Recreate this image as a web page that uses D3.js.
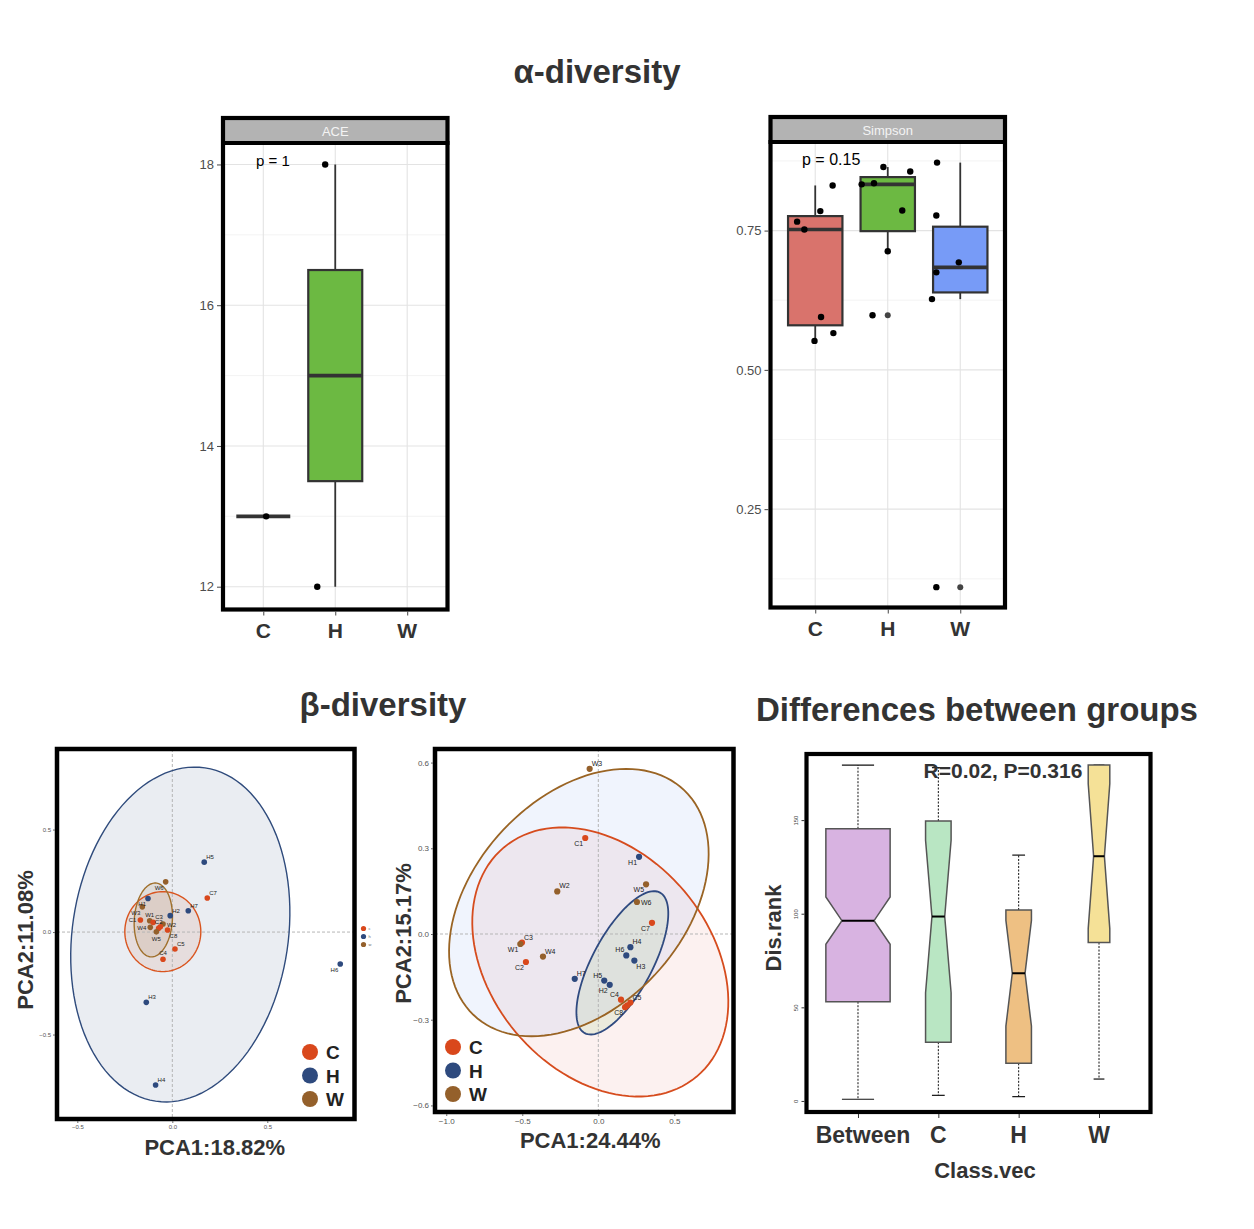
<!DOCTYPE html>
<html>
<head>
<meta charset="utf-8">
<title>diversity</title>
<script src="https://d3js.org/d3.v7.min.js"></script>
<style>
  body { margin: 0; background: #fff; }
  svg text { font-family: "Liberation Sans", Arial, Helvetica, sans-serif; }
</style>
</head>
<body>
<div id="canvax"></div>
<script>
var groups = ['C', 'H', 'W'];

// ---- alpha diversity: ACE ----
var aceBoxGrp = ['C', 'H'];
var aceLo  = [13, 12];
var aceQ1  = [13, 13.5];
var aceMed = [13, 15];
var aceQ3  = [13, 16.5];
var aceHi  = [13, 18];
var aceOut = [[], []];
var acePtGrp = ['C', 'H', 'H'];
var acePtVal = [13, 12, 18];
var acePtJit = [0.04, -0.25, -0.14];
var aceTicks = [12, 14, 16, 18];
var aceMinor = [13, 15, 17];

// ---- alpha diversity: Simpson ----
var simBoxGrp = ['C', 'H', 'W'];
var simLo  = [0.552, 0.713, 0.627];
var simQ1  = [0.580, 0.749, 0.639];
var simMed = [0.752, 0.833, 0.684];
var simQ3  = [0.776, 0.846, 0.757];
var simHi  = [0.831, 0.864, 0.872];
var simOut = [[], [0.598], [0.110]];
var simPtGrp = ['C','C','C','C','C','C','C', 'H','H','H','H','H','H','H', 'W','W','W','W','W','W'];
var simPtVal = [0.766,0.752,0.785,0.831,0.595,0.566,0.552, 0.864,0.856,0.833,0.835,0.786,0.713,0.598, 0.872,0.777,0.693,0.675,0.627,0.110];
var simPtJit = [-0.25,-0.15,0.07,0.24,0.08,0.25,-0.01, -0.06,0.31,-0.36,-0.19,0.20,0.0,-0.21, -0.32,-0.33,-0.02,-0.33,-0.39,-0.33];
var simTicks = [0.25, 0.50, 0.75];
var simMinor = [0.125, 0.375, 0.625, 0.875];

// ---- beta diversity: PCA (left) ----
var pcaANames = ['H5','C7','W6','H1','W3','H2','H7','C1','W1','C3','W2','W4','C2','C6','W5','C8','C5','C4','H3','H4','H6'];
var pcaAX = [0.168,0.184,-0.035,-0.128,-0.158,-0.011,0.084,-0.168,-0.119,-0.101,-0.049,-0.116,-0.072,-0.063,-0.084,-0.025,0.014,-0.049,-0.137,-0.088,0.884];
var pcaAY = [0.341,0.166,0.245,0.164,0.123,0.080,0.104,0.059,0.055,0.047,0.039,0.023,0.018,0.026,0.001,0.010,-0.083,-0.133,-0.343,-0.746,-0.156];
var pcaALbl = ['ne','ne','sw','sw','sw','ne','ne','w','n','ne','e','w','n','','s','se','ne','n','ne','ne','sw'];
// ellipses C, H, W : centre x, centre y, axis1 (dx,dy), axis2 (dx,dy)
var pcaAEll = [[-0.05, 0.002, 0.20, 0, 0, 0.195],
               [0.042, -0.012, 0.130, 0.813, 0.562, -0.078],
               [-0.10, 0.059, 0.013, 0.18, 0.10, -0.006]];
var pcaATicks = [-0.5, 0, 0.5];

// ---- beta diversity: PCA (right) ----
var pcaBNames = ['W3','C1','H1','W2','W5','W6','C7','C3','W1','C2','W4','H4','H6','H3','H7','H5','H2','C4','C5','C8','C6'];
var pcaBX = [-0.057,-0.086,0.268,-0.270,0.314,0.254,0.353,-0.502,-0.513,-0.476,-0.364,0.211,0.184,0.237,-0.155,0.039,0.075,0.149,0.211,0.176,0.190];
var pcaBY = [0.578,0.336,0.270,0.149,0.174,0.112,0.039,-0.030,-0.035,-0.098,-0.079,-0.046,-0.075,-0.093,-0.157,-0.163,-0.178,-0.230,-0.240,-0.256,-0.250];
var pcaBLbl = ['ne','sw','sw','ne','sw','e','sw','ne','sw','sw','ne','ne','nw','se','ne','nw','sw','nw','ne','sw',''];
var pcaBEll = [[0.013, -0.098, 0.634, -0.401, 0.554, 0.247],
               [0.158, -0.101, 0.247, 0.246, 0.174, -0.049],
               [-0.128, 0.110, 0.742, 0.364, 0.422, -0.294]];
var pcaBXTicks = [-1.0, -0.5, 0, 0.5];
var pcaBYTicks = [-0.6, -0.3, 0, 0.3, 0.6];

// ---- differences between groups (ANOSIM ranks) ----
var drCats = ['Between', 'C', 'H', 'W'];
var drN   = [133, 21, 21, 15];
var drLo  = [0.9, 3.0, 2.3, 11.7];
var drQ1  = [53.0, 31.4, 20.1, 84.6];
var drMed = [96.3, 98.5, 68.2, 130.7];
var drQ3  = [145.4, 149.5, 102.0, 179.4];
var drHi  = [179.4, 178.0, 131.3, 179.4];
var drTicks = [0, 50, 100, 150];

var boxCol = {C: '#d9736c', H: '#6cb942', W: '#779bf7'};
var ptCol = {C: '#d9481c', H: '#2e4a7e', W: '#94602b'};
var drCol = ['#d8b3e1', '#b9e6c3', '#eec083', '#f5e197'];

var svg = d3.select("#canvax").append("svg")
    .attr("width", 1254)
    .attr("height", 1229)
    .style("background", "#fff");

function title(txt, x, y) {
  svg.append("text").attr("x", x).attr("y", y)
    .attr("text-anchor", "middle").attr("font-size", 33).attr("font-weight", "bold")
    .attr("fill", "#333").text(txt);
}

function facet(o) {
  var stripH = 25;
  var x = d3.scalePoint().domain(groups).range([o.left, o.right]).padding(o.pad);
  var y = d3.scaleLinear().domain(o.ydom).range([o.bottom, o.top + stripH]);
  var bw = x.step() * 0.75;
  var g = svg.append("g");

  g.selectAll("line.minor").data(o.minor).enter().append("line")
      .attr("x1", o.left).attr("x2", o.right)
      .attr("y1", function(d){ return y(d); }).attr("y2", function(d){ return y(d); })
      .attr("stroke", "#f0f0f0").attr("stroke-width", 0.8);
  g.selectAll("line.major").data(o.ticks).enter().append("line")
      .attr("x1", o.left).attr("x2", o.right)
      .attr("y1", function(d){ return y(d); }).attr("y2", function(d){ return y(d); })
      .attr("stroke", "#e3e3e3").attr("stroke-width", 1.1);
  g.selectAll("line.vg").data(groups).enter().append("line")
      .attr("x1", function(d){ return x(d); }).attr("x2", function(d){ return x(d); })
      .attr("y1", o.top + stripH).attr("y2", o.bottom)
      .attr("stroke", "#e3e3e3").attr("stroke-width", 1.1);

  var idx = d3.range(o.grp.length);
  // whiskers
  g.selectAll("line.wh").data(idx).enter().append("line")
      .attr("x1", function(i){ return x(o.grp[i]); }).attr("x2", function(i){ return x(o.grp[i]); })
      .attr("y1", function(i){ return y(o.hi[i]); }).attr("y2", function(i){ return y(o.lo[i]); })
      .attr("stroke", "#333").attr("stroke-width", 1.8);
  g.selectAll("rect.box").data(idx).enter().append("rect")
      .attr("x", function(i){ return x(o.grp[i]) - bw / 2; })
      .attr("y", function(i){ return y(o.q3[i]); })
      .attr("width", bw)
      .attr("height", function(i){ return y(o.q1[i]) - y(o.q3[i]); })
      .attr("fill", function(i){ return boxCol[o.grp[i]]; })
      .attr("stroke", "#333").attr("stroke-width", 2.2);
  g.selectAll("line.med").data(idx).enter().append("line")
      .attr("x1", function(i){ return x(o.grp[i]) - bw / 2; })
      .attr("x2", function(i){ return x(o.grp[i]) + bw / 2; })
      .attr("y1", function(i){ return y(o.med[i]); }).attr("y2", function(i){ return y(o.med[i]); })
      .attr("stroke", "#333").attr("stroke-width", 3.6);
  // boxplot outliers
  idx.forEach(function(i){
    g.selectAll("circle.out" + i).data(o.out[i]).enter().append("circle")
        .attr("cx", x(o.grp[i])).attr("cy", function(d){ return y(d); })
        .attr("r", 3).attr("fill", "#444");
  });
  // jittered points
  g.selectAll("circle.pt").data(o.ptVal).enter().append("circle")
      .attr("cx", function(d, i){ return x(o.ptGrp[i]) + o.ptJit[i] * x.step(); })
      .attr("cy", function(d){ return y(d); })
      .attr("r", 3.2).attr("fill", "#000");

  // strip
  g.append("rect").attr("x", o.left).attr("y", o.top).attr("width", o.right - o.left).attr("height", stripH)
      .attr("fill", "#b3b3b3");
  g.append("text").attr("x", (o.left + o.right) / 2).attr("y", o.top + 17.5)
      .attr("text-anchor", "middle").attr("font-size", 13).attr("fill", "#f4f4f4").text(o.label);
  g.append("rect").attr("x", o.left).attr("y", o.top).attr("width", o.right - o.left).attr("height", o.bottom - o.top)
      .attr("fill", "none").attr("stroke", "#000").attr("stroke-width", 4.2);
  g.append("line").attr("x1", o.left - 2).attr("x2", o.right + 2)
      .attr("y1", o.top + stripH).attr("y2", o.top + stripH)
      .attr("stroke", "#000").attr("stroke-width", 4.2);

  var ya = g.append("g").attr("transform", "translate(" + (o.left - 2) + ",0)")
      .call(d3.axisLeft(y).tickValues(o.ticks).tickSize(4).tickPadding(3).tickFormat(o.fmt));
  ya.select(".domain").remove();
  ya.selectAll("line").attr("stroke", "#444");
  ya.selectAll("text").attr("fill", "#4d4d4d").attr("font-size", 13).attr("font-family", null);

  var xa = g.append("g").attr("transform", "translate(0," + (o.bottom + 2) + ")")
      .call(d3.axisBottom(x).tickSize(4).tickFormat(""));
  xa.select(".domain").remove();
  xa.selectAll("line").attr("stroke", "#444");
  g.selectAll("text.xl").data(groups).enter().append("text")
      .attr("x", function(d){ return x(d); }).attr("y", o.bottom + 28)
      .attr("text-anchor", "middle").attr("font-size", 21).attr("font-weight", "bold")
      .attr("fill", "#333").text(function(d){ return d; });

  g.append("text").attr("x", o.pX).attr("y", o.top + 48)
      .attr("font-size", o.pSize).attr("fill", "#000").text(o.p);
}

var lblOff = {ne: [2, -3, 'start'], nw: [-2, -3, 'end'], sw: [-2, 8, 'end'], se: [2, 8, 'start'],
              e: [4, 2.5, 'start'], w: [-4, 2.5, 'end'], n: [0, -4, 'middle'], s: [0, 9, 'middle']};

function ellPath(e, x, y) {
  var ts = d3.range(0, 360, 3).map(function(a){ return a * Math.PI / 180; });
  return d3.line()
      .x(function(t){ return x(e[0] + e[2] * Math.cos(t) + e[4] * Math.sin(t)); })
      .y(function(t){ return y(e[1] + e[3] * Math.cos(t) + e[5] * Math.sin(t)); })
      .curve(d3.curveLinearClosed)(ts);
}

function pca(o) {
  var x = d3.scaleLinear().domain(o.xdom).range([o.left, o.right]);
  var y = d3.scaleLinear().domain(o.ydom).range([o.bottom, o.top]);
  var g = svg.append("g");
  g.append("clipPath").attr("id", "clip" + o.id).append("rect")
      .attr("x", o.left).attr("y", o.top).attr("width", o.right - o.left).attr("height", o.bottom - o.top);
  var inner = g.append("g").attr("clip-path", "url(#clip" + o.id + ")");

  inner.selectAll("path.efill").data(o.ell).enter().append("path")
      .attr("d", function(e){ return ellPath(e, x, y); })
      .attr("fill", function(e, i){ return o.ellFill[i]; })
      .attr("fill-opacity", function(e, i){ return o.ellOp[i]; });
  inner.append("line").attr("x1", x(0)).attr("x2", x(0)).attr("y1", o.top).attr("y2", o.bottom)
      .attr("stroke", "#b5b5b5").attr("stroke-width", 1).attr("stroke-dasharray", "3,2");
  inner.append("line").attr("x1", o.left).attr("x2", o.right).attr("y1", y(0)).attr("y2", y(0))
      .attr("stroke", "#b5b5b5").attr("stroke-width", 1).attr("stroke-dasharray", "3,2");
  inner.selectAll("path.eline").data(o.ell).enter().append("path")
      .attr("d", function(e){ return ellPath(e, x, y); })
      .attr("fill", "none")
      .attr("stroke", function(e, i){ return o.ellStroke[i]; })
      .attr("stroke-width", o.ellW);

  inner.selectAll("circle.pt").data(o.names).enter().append("circle")
      .attr("cx", function(d, i){ return x(o.px[i]); })
      .attr("cy", function(d, i){ return y(o.py[i]); })
      .attr("r", o.r)
      .attr("fill", function(d){ return ptCol[d.charAt(0)]; });
  inner.selectAll("text.lbl").data(o.names).enter().append("text")
      .filter(function(d, i){ return o.lbl[i] !== ''; })
      .attr("x", function(d){ var i = o.names.indexOf(d); return x(o.px[i]) + lblOff[o.lbl[i]][0]; })
      .attr("y", function(d){ var i = o.names.indexOf(d); return y(o.py[i]) + lblOff[o.lbl[i]][1]; })
      .attr("text-anchor", function(d){ var i = o.names.indexOf(d); return lblOff[o.lbl[i]][2]; })
      .attr("font-size", o.lblSize).attr("fill", "#222")
      .text(function(d){ return d; });

  g.append("rect").attr("x", o.left).attr("y", o.top).attr("width", o.right - o.left).attr("height", o.bottom - o.top)
      .attr("fill", "none").attr("stroke", "#000").attr("stroke-width", 4.5);

  var xa = g.append("g").attr("transform", "translate(0," + (o.bottom + 2) + ")")
      .call(d3.axisBottom(x).tickValues(o.xticks).tickSize(2).tickPadding(2).tickFormat(d3.format(".1f")));
  xa.select(".domain").remove();
  xa.selectAll("line").attr("stroke", "#666");
  xa.selectAll("text").attr("fill", "#555").attr("font-size", o.tickSize).attr("font-family", null);
  var ya = g.append("g").attr("transform", "translate(" + (o.left - 2) + ",0)")
      .call(d3.axisLeft(y).tickValues(o.yticks).tickSize(2).tickPadding(2).tickFormat(d3.format(".1f")));
  ya.select(".domain").remove();
  ya.selectAll("line").attr("stroke", "#666");
  ya.selectAll("text").attr("fill", "#555").attr("font-size", o.tickSize).attr("font-family", null);

  // legend inside panel
  var lg = g.append("g");
  lg.selectAll("circle").data(groups).enter().append("circle")
      .attr("cx", o.legX).attr("cy", function(d, i){ return o.legY + i * 23.5; })
      .attr("r", 8).attr("fill", function(d){ return ptCol[d]; });
  lg.selectAll("text").data(groups).enter().append("text")
      .attr("x", o.legX + 16).attr("y", function(d, i){ return o.legY + i * 23.5 + 7; })
      .attr("font-size", 19).attr("font-weight", "bold").attr("fill", "#222")
      .text(function(d){ return d; });

  g.append("text").attr("x", (o.left + o.right) / 2 + o.xlabDx).attr("y", o.bottom + 36)
      .attr("text-anchor", "middle").attr("font-size", 22).attr("font-weight", "bold").attr("fill", "#333")
      .text(o.xlab);
  g.append("text").attr("transform", "translate(" + o.ylabX + "," + ((o.top + o.bottom) / 2 + o.ylabDy) + ") rotate(-90)")
      .attr("text-anchor", "middle").attr("font-size", 22).attr("font-weight", "bold").attr("fill", "#333")
      .text(o.ylab);
  return g;
}

function disRank(o) {
  var x = d3.scalePoint().domain(drCats).range([o.left, o.right]).padding(o.pad);
  var y = d3.scaleLinear().domain(o.ydom).range([o.bottom, o.top]);
  var g = svg.append("g");
  var maxN = d3.max(drN);
  var hw = drN.map(function(n){ return 0.8 * Math.sqrt(n / maxN) * x.step() / 2; });
  var idx = d3.range(drCats.length);

  // whiskers (dashed) and staples
  g.selectAll("line.wu").data(idx).enter().append("line")
      .attr("x1", function(i){ return x(drCats[i]); }).attr("x2", function(i){ return x(drCats[i]); })
      .attr("y1", function(i){ return y(drQ3[i]); }).attr("y2", function(i){ return y(drHi[i]); })
      .attr("stroke", "#111").attr("stroke-width", 1).attr("stroke-dasharray", "2,1.5");
  g.selectAll("line.wl").data(idx).enter().append("line")
      .attr("x1", function(i){ return x(drCats[i]); }).attr("x2", function(i){ return x(drCats[i]); })
      .attr("y1", function(i){ return y(drQ1[i]); }).attr("y2", function(i){ return y(drLo[i]); })
      .attr("stroke", "#111").attr("stroke-width", 1).attr("stroke-dasharray", "2,1.5");
  ['hi', 'lo'].forEach(function(k){
    var arr = k === 'hi' ? drHi : drLo;
    g.selectAll("line.st" + k).data(idx).enter().append("line")
        .attr("x1", function(i){ return x(drCats[i]) - hw[i] / 2; })
        .attr("x2", function(i){ return x(drCats[i]) + hw[i] / 2; })
        .attr("y1", function(i){ return y(arr[i]); }).attr("y2", function(i){ return y(arr[i]); })
        .attr("stroke", "#111").attr("stroke-width", 1.2);
  });

  // notched boxes
  g.selectAll("path.box").data(idx).enter().append("path")
      .attr("d", function(i){
        var cx = x(drCats[i]), h = hw[i];
        var nt = drMed[i] + 1.58 * (drQ3[i] - drQ1[i]) / Math.sqrt(drN[i]);
        var nb = drMed[i] - 1.58 * (drQ3[i] - drQ1[i]) / Math.sqrt(drN[i]);
        var p = d3.path();
        p.moveTo(cx - h, y(drQ3[i]));
        p.lineTo(cx - h, y(nt));
        p.lineTo(cx - h / 2, y(drMed[i]));
        p.lineTo(cx - h, y(nb));
        p.lineTo(cx - h, y(drQ1[i]));
        p.lineTo(cx + h, y(drQ1[i]));
        p.lineTo(cx + h, y(nb));
        p.lineTo(cx + h / 2, y(drMed[i]));
        p.lineTo(cx + h, y(nt));
        p.lineTo(cx + h, y(drQ3[i]));
        p.closePath();
        return p.toString();
      })
      .attr("fill", function(i){ return drCol[i]; })
      .attr("stroke", "#555").attr("stroke-width", 1.5);
  g.selectAll("line.med").data(idx).enter().append("line")
      .attr("x1", function(i){ return x(drCats[i]) - hw[i] / 2; })
      .attr("x2", function(i){ return x(drCats[i]) + hw[i] / 2; })
      .attr("y1", function(i){ return y(drMed[i]); }).attr("y2", function(i){ return y(drMed[i]); })
      .attr("stroke", "#000").attr("stroke-width", 2);

  g.append("rect").attr("x", o.left).attr("y", o.top).attr("width", o.right - o.left).attr("height", o.bottom - o.top)
      .attr("fill", "none").attr("stroke", "#000").attr("stroke-width", 4.2);

  var xa = g.append("g").attr("transform", "translate(0," + (o.bottom + 2) + ")")
      .call(d3.axisBottom(x).tickSize(4).tickFormat(""));
  xa.select(".domain").remove();
  xa.selectAll("line").attr("stroke", "#333");
  g.selectAll("text.xl").data(drCats).enter().append("text")
      .attr("x", function(d){ return x(d) + (d === 'Between' ? 5 : 0); }).attr("y", o.bottom + 31)
      .attr("text-anchor", "middle").attr("font-size", 23).attr("font-weight", "bold").attr("fill", "#333")
      .text(function(d){ return d; });

  var ya = g.append("g").attr("transform", "translate(" + (o.left - 2) + ",0)")
      .call(d3.axisLeft(y).tickValues(drTicks).tickSize(3).tickPadding(4));
  ya.select(".domain").remove();
  ya.selectAll("line").attr("stroke", "#333");
  ya.selectAll("text").attr("fill", "#444").attr("font-size", 6).attr("font-family", null)
      .attr("text-anchor", "middle")
      .attr("x", 0).attr("y", 0).attr("dy", null)
      .attr("transform", "translate(-7,0) rotate(-90)");

  g.append("text").attr("x", 985).attr("y", o.bottom + 66)
      .attr("text-anchor", "middle").attr("font-size", 22).attr("font-weight", "bold").attr("fill", "#333")
      .text("Class.vec");
  g.append("text").attr("transform", "translate(781," + ((o.top + o.bottom) / 2 - 5) + ") rotate(-90)")
      .attr("text-anchor", "middle").attr("font-size", 22).attr("font-weight", "bold").attr("fill", "#333")
      .text("Dis.rank");
  g.append("text").attr("x", 1003).attr("y", o.top + 24)
      .attr("text-anchor", "middle").attr("font-size", 21).attr("font-weight", "bold").attr("fill", "#333")
      .text("R=0.02, P=0.316");
}

// ---------- draw ----------
title("\u03b1-diversity", 597, 83);
title("\u03b2-diversity", 383, 716);
title("Differences between groups", 977, 721);

facet({left: 223, right: 447.5, top: 118, bottom: 609.5, pad: 0.56, ydom: [11.676, 18.305],
       grp: aceBoxGrp, lo: aceLo, q1: aceQ1, med: aceMed, q3: aceQ3, hi: aceHi, out: aceOut,
       ptGrp: acePtGrp, ptVal: acePtVal, ptJit: acePtJit,
       ticks: aceTicks, minor: aceMinor, fmt: d3.format("d"), label: "ACE",
       p: "p = 1", pX: 256, pSize: 15});

facet({left: 770.5, right: 1005, top: 117, bottom: 607.5, pad: 0.617, ydom: [0.0735, 0.909],
       grp: simBoxGrp, lo: simLo, q1: simQ1, med: simMed, q3: simQ3, hi: simHi, out: simOut,
       ptGrp: simPtGrp, ptVal: simPtVal, ptJit: simPtJit,
       ticks: simTicks, minor: simMinor, fmt: d3.format(".2f"), label: "Simpson",
       p: "p = 0.15", pX: 802, pSize: 16});

var leftPca = pca({id: "a", left: 57, right: 354.5, top: 749, bottom: 1119,
     xdom: [-0.607, 0.959], ydom: [-0.912, 0.893],
     names: pcaANames, px: pcaAX, py: pcaAY, lbl: pcaALbl, lblSize: 6, r: 2.8,
     ell: pcaAEll, ellFill: ['#d9541e', '#2f4b7c', '#94602b'], ellOp: [0.1, 0.1, 0.12],
     ellStroke: ['#d9541e', '#2f4b7c', '#a0702c'], ellW: 1.4,
     xticks: pcaATicks, yticks: pcaATicks, tickSize: 6,
     legX: 310, legY: 1052, xlab: "PCA1:18.82%", xlabDx: 9, ylab: "PCA2:11.08%", ylabX: 33, ylabDy: 6});

// small default legend that sits outside the left panel
leftPca.selectAll("circle.mini").data(groups).enter().append("circle")
    .attr("cx", 363.5).attr("cy", function(d, i){ return 928.5 + i * 8; })
    .attr("r", 2.6).attr("fill", function(d){ return ptCol[d]; });
leftPca.selectAll("text.mini").data(groups).enter().append("text")
    .attr("x", 368.5).attr("y", function(d, i){ return 930 + i * 8; })
    .attr("font-size", 4).attr("fill", "#666").text(function(d){ return d.toLowerCase(); });

pca({id: "b", left: 435, right: 733.5, top: 749, bottom: 1112,
     xdom: [-1.074, 0.889], ydom: [-0.623, 0.6475],
     names: pcaBNames, px: pcaBX, py: pcaBY, lbl: pcaBLbl, lblSize: 7, r: 3.1,
     ell: pcaBEll, ellFill: ['#e07a68', '#a8d08a', '#6a93ea'], ellOp: [0.1, 0.2, 0.1],
     ellStroke: ['#d64c1e', '#2f4a80', '#9a6424'], ellW: 1.8,
     xticks: pcaBXTicks, yticks: pcaBYTicks, tickSize: 8,
     legX: 453, legY: 1047, xlab: "PCA1:24.44%", xlabDx: 6, ylab: "PCA2:15.17%", ylabX: 411, ylabDy: 3});

disRank({left: 806.5, right: 1150.5, top: 754, bottom: 1112, pad: 0.641, ydom: [-5.9, 185.3]});
</script>
</body>
</html>
